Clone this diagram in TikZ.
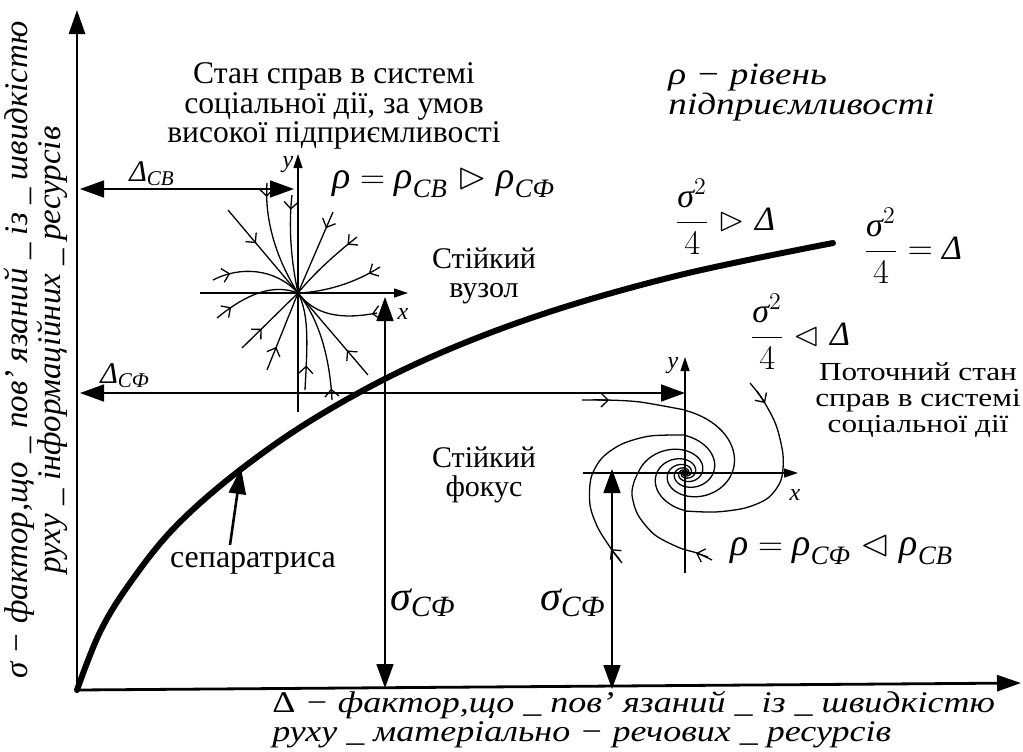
\documentclass[tikz,border=0pt]{standalone}
\usepackage{amsmath,amssymb}
\usepackage{fontspec}
\setmainfont{Liberation Serif}
\newfontfamily\widefont[FakeStretch=1.2]{Liberation Serif}
\usetikzlibrary{arrows.meta,decorations.markings}

\begin{document}
\begin{tikzpicture}[
  x=0.5pt, y=-0.5pt,
  mainaxis/.style={line width=1.4pt, -{Triangle[length=12pt,width=8pt]}},
  dimarrow/.style={line width=0.8pt, {Triangle[length=12pt,width=8.5pt]}-{Triangle[length=12pt,width=8.5pt]}},
  pax/.style={line width=0.6pt, -{Triangle[length=7pt,width=4.5pt]}},
  traj/.style={line width=0.65pt, line join=round},
  barb/.style={line width=0.65pt, -{Straight Barb[length=3.5pt,width=7pt]}},
  flowmark/.style={decoration={markings, mark=at position #1 with {\arrow{Straight Barb[length=3.5pt,width=7pt]}}}, postaction={decorate}},
  txt/.style={inner sep=0pt, align=center, font=\fontsize{15.8}{13.5}\selectfont},
  bigtxt/.style={inner sep=0pt, align=center, font=\fontsize{15}{14.5}\selectfont},
  itxt/.style={inner sep=0pt, font=\fontsize{16.5}{11}\selectfont\itshape},
  frm/.style={inner sep=0pt, font=\fontsize{17}{20}\selectfont},
  plab/.style={inner sep=0pt, font=\fontsize{12}{12}\selectfont\itshape}
]
\useasboundingbox (0,0) rectangle (1023,751);

% axes
\coordinate (orig) at (77,690);
\coordinate (ytop) at (77,10);
\coordinate (xend) at (1021,683);
\draw[mainaxis] (orig) -- (ytop);
\draw[mainaxis] (orig) -- (xend);

\node[itxt, rotate=90, align=center] (ylab) at (36,350)
  {σ − фактор,що \_ пов’ язаний \_ із \_ швидкістю\\руху \_ інформаційних \_ ресурсів};
\node[itxt, align=left, anchor=north west, font=\widefont\fontsize{15}{12.5}\selectfont\itshape] (xlab) at (272,691)
  {\upshape Δ\itshape{} − фактор,що \_ пов’ язаний \_ із \_ швидкістю\\руху \_ матеріально − речових \_ ресурсів};

% separatrix
\draw[line width=3pt, line cap=round] plot[smooth, tension=0.6] coordinates
  {(77,690) (100,632) (130,583) (175,527) (240,470) (320,415) (420,362) (540,315) (680,275) (833,243)};
\coordinate (septip) at (241,468);
\coordinate (sepfoot) at (230,545);
\draw[line width=1.3pt, -{Triangle[length=13pt,width=8.5pt]}] (sepfoot) -- (septip);
\node[bigtxt, font=\fontsize{16}{16}\selectfont] (seplab) at (253,563) {сепаратриса};

% texts
\node[txt] (state) at (334,106) {Стан справ в системі\\соціальної дії, за умов\\високої підприємливості};
\node[itxt, align=left, anchor=west, font=\widefont\fontsize{15.5}{15}\selectfont\itshape] (rholab) at (668,93)
  {ρ − рівень\\підприємливості};
\node[bigtxt] (nodelab) at (484,276) {Стійкий\\вузол};
\node[bigtxt] (foclab) at (484,475) {Стійкий\\фокус};
\node[txt, font=\widefont\fontsize{13}{13}\selectfont] (curlab) at (918,400) {Поточний стан\\справ в системі\\соціальної дії};

% conditions
\node[frm] (condA) at (725,217) {$\dfrac{\textit{σ}^{2}}{4}\vartriangleright\textit{Δ}$};
\node[frm] (condB) at (913,246) {$\dfrac{\textit{σ}^{2}}{4}=\textit{Δ}$};
\node[frm] (condC) at (800,332) {$\dfrac{\textit{σ}^{2}}{4}\vartriangleleft\textit{Δ}$};
\node[frm, font=\fontsize{19}{20}\selectfont, anchor=base west] (rhoA) at (332,188)
  {$\textit{ρ}=\textit{ρ}_{\textit{CB}}\vartriangleright\textit{ρ}_{\textit{CФ}}$};
\node[frm, font=\fontsize{19}{20}\selectfont, anchor=base west] (rhoB) at (730,555)
  {$\textit{ρ}=\textit{ρ}_{\textit{CФ}}\vartriangleleft\textit{ρ}_{\textit{CB}}$};

% dimension arrows
\coordinate (dcbL) at (80,189);
\coordinate (dcbR) at (294,189);
\draw[dimarrow] (dcbL) -- (dcbR);
\node[frm, font=\fontsize{15}{15}\selectfont] (dcb) at (152,174) {$\textit{Δ}_{\textit{CB}}$};
\coordinate (dcfL) at (80,393);
\coordinate (dcfR) at (685,393);
\draw[dimarrow] (dcfL) -- (dcfR);
\node[frm, font=\fontsize{15}{15}\selectfont] (dcf) at (125,376) {$\textit{Δ}_{\textit{CФ}}$};
\coordinate (sgAT) at (385,297);
\coordinate (sgAB) at (385,688);
\draw[dimarrow] (sgAT) -- (sgAB);
\node[frm, font=\fontsize{21}{21}\selectfont] (sgA) at (423,603) {$\textit{σ}_{\textit{CФ}}$};
\coordinate (sgBT) at (612,469);
\coordinate (sgBB) at (612,689);
\draw[dimarrow] (sgBT) -- (sgBB);
\node[frm, font=\fontsize{21}{21}\selectfont] (sgB) at (573,603) {$\textit{σ}_{\textit{CФ}}$};

% stable node
\coordinate (N) at (298,293);
\coordinate (nxL) at (200,293);
\coordinate (nxR) at (408,293);
\coordinate (nyB) at (298,412);
\coordinate (nyT) at (298,154);
\draw[pax] (nxL) -- (nxR);
\draw[pax] (nyB) -- (nyT);
\node[plab] (nx) at (403,314) {x};
\node[plab] (ny) at (288,165) {y};
\draw[traj, flowmark=0.4] (228,210) -- (N);
\draw[traj, flowmark=0.12] (267,183) .. controls (264,225) and (280,265) .. (N);
\draw[traj, flowmark=0.15] (292,195) .. controls (288,230) and (292,265) .. (N);
\draw[traj, flowmark=0.2] (333,212) -- (N);
\draw[traj, flowmark=0.15] (357,237) .. controls (338,252) and (315,272) .. (N);
\draw[traj, flowmark=0.15] (380,267) .. controls (355,283) and (325,292) .. (N);
\draw[traj, flowmark=0.06] (377,313) .. controls (340,320) and (315,315) .. (N);
\draw[traj, flowmark=0.2] (213,280) .. controls (240,266) and (275,268) .. (N);
\draw[traj, flowmark=0.2] (217,318) .. controls (245,295) and (272,283) .. (N);
\draw[traj, flowmark=0.35] (242,348) -- (N);
\draw[traj, flowmark=0.3] (267,370) -- (N);
\draw[traj, flowmark=0.25] (305,390) .. controls (307,350) and (310,315) .. (N);
\draw[traj, flowmark=0.1] (332,400) .. controls (330,360) and (320,320) .. (N);
\draw[traj, flowmark=0.3] (368,375) -- (N);

% stable focus
\coordinate (F) at (685,473);
\coordinate (fxL) at (583,473);
\coordinate (fxR) at (798,473);
\coordinate (fyB) at (685,573);
\coordinate (fyT) at (685,357);
\draw[pax] (fxL) -- (fxR);
\draw[pax] (fyB) -- (fyT);
\node[plab] (fx) at (795,495) {x};
\node[plab] (fy) at (673,366) {y};
% spiral tails
\draw[traj] plot[smooth] coordinates {(582,400) (607,400) (640,402) (685,410)};
\draw[traj] plot[smooth] coordinates {(750,383) (763,400) (776,425) (783,455) (781,480) (768,498) (745,508) (715,512) (685,511)};
\draw[traj] plot[smooth] coordinates {(622,563) (612,550) (598,528) (590,505) (591,478) (602,458) (622,444) (650,436) (685,435)};
\draw[traj] plot[smooth] coordinates {(712,560) (697,553) (680,548) (655,535) (638,515) (632,495) (634,482) (638,473)};
\draw[barb] (597,400) -- (609,400.2);
\draw[barb] (757,391) -- (765,403);
\draw[barb] (620,560) -- (611,549);
\draw[barb] (708,557) -- (696,553);
% spiral turns
\draw[traj] plot[domain=-90:620, samples=160] ({685+47*exp(-0.5108*\x/90)*cos(\x)}, {473+37.6*exp(-0.5108*\x/90)*sin(\x)});
\draw[traj] plot[domain=-270:340, samples=160] ({685+47*exp(-0.5108*(\x/90+3))*cos(\x)}, {473+37.6*exp(-0.5108*(\x/90+3))*sin(\x)});
\draw[traj] plot[domain=-90:520, samples=160] ({685+47*exp(-0.5108*(\x/90+1))*cos(\x)}, {473+37.6*exp(-0.5108*(\x/90+1))*sin(\x)});
\draw[traj] plot[domain=-180:430, samples=160] ({685+47*exp(-0.5108*(\x/90+2))*cos(\x)}, {473+37.6*exp(-0.5108*(\x/90+2))*sin(\x)});
\end{tikzpicture}
\end{document}
